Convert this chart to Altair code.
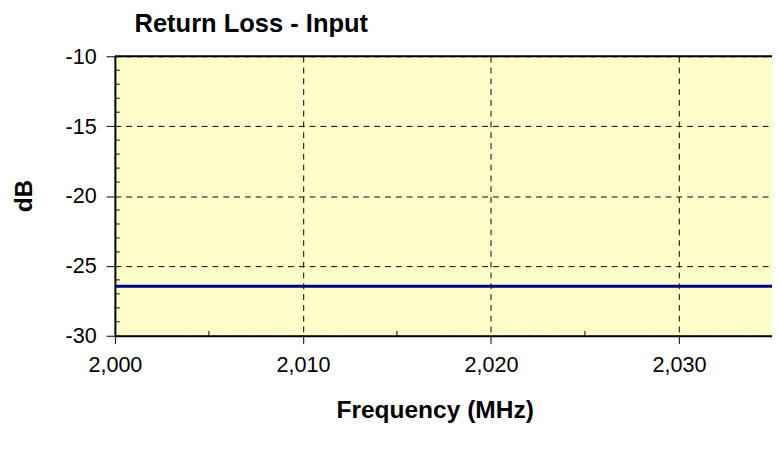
import altair as alt
import pandas as pd

freq = [2000, 2005, 2010, 2015, 2020, 2025, 2030, 2035]
rl_db = [-26.45, -26.45, -26.45, -26.45, -26.45, -26.45, -26.45, -26.45]
y_minor = [v for v in range(-29, -10) if v % 5 != 0]
x_minor = [2005, 2015, 2025]

W, H = 670, 285
FONT = "Liberation Sans"
MINUS_FIX = "replace(datum.label, '\u2212', '-')"

df = pd.DataFrame({"freq": freq, "db": rl_db})
xs = alt.Scale(domain=[2000, 2034.95], nice=False, zero=False)
ys = alt.Scale(domain=[-30, -10], nice=False, zero=False)

line = alt.Chart(df).mark_line(color="#000080", strokeWidth=3, clip=True).encode(
    x=alt.X("freq:Q", scale=xs,
            axis=alt.Axis(values=[2000, 2010, 2020, 2030], format=",d",
                          title="Frequency (MHz)", titleX=326, titleY=63,
                          labelFlush=False,
                          grid=True, gridDash=[6, 5], gridColor="#000000", gridWidth=1,
                          domainColor="#000000", domainWidth=2, tickColor="#000000",
                          tickSize=8, labelPadding=11)),
    y=alt.Y("db:Q", scale=ys,
            axis=alt.Axis(values=[-30, -25, -20, -15, -10], title="dB",
                          labelExpr=MINUS_FIX, titleX=-80, titleY=142,
                          labelFlush=False,
                          grid=True, gridDash=[6, 5], gridColor="#000000", gridWidth=1,
                          domainColor="#000000", domainWidth=2, tickColor="#000000",
                          tickSize=9, labelPadding=10)),
)

ymin = alt.Chart(pd.DataFrame({"v": y_minor})).mark_rule(color="#000000", strokeWidth=1).encode(
    y=alt.Y("v:Q", scale=ys), x=alt.value(0), x2=alt.value(5))
xmin = alt.Chart(pd.DataFrame({"v": x_minor})).mark_rule(color="#000000", strokeWidth=1).encode(
    x=alt.X("v:Q", scale=xs), y=alt.value(H), y2=alt.value(H - 5))
topline = alt.Chart(pd.DataFrame({"a": [0]})).mark_rule(color="#000000", strokeWidth=2).encode(
    x=alt.value(0), x2=alt.value(W), y=alt.value(0))

chart = alt.layer(line, ymin, xmin, topline).properties(
    width=W, height=H, background="#FFFFFF",
    title=alt.TitleParams("Return Loss - Input", anchor="start", frame="group", dx=20,
                          fontSize=26, font=FONT, fontWeight="bold", color="#000000",
                          offset=9),
    autosize=alt.AutoSizeParams(type="none"),
    padding={"left": 109, "top": 45, "right": 0, "bottom": 100},
).configure_view(fill="#FFFFCC", stroke=None).configure_axis(
    labelFont=FONT, labelFontSize=22, labelColor="#000000",
    titleFont=FONT, titleFontSize=25, titleFontWeight="bold", titleColor="#000000",
)

chart.save("out.html", embed_options={"renderer": "svg", "actions": False})
